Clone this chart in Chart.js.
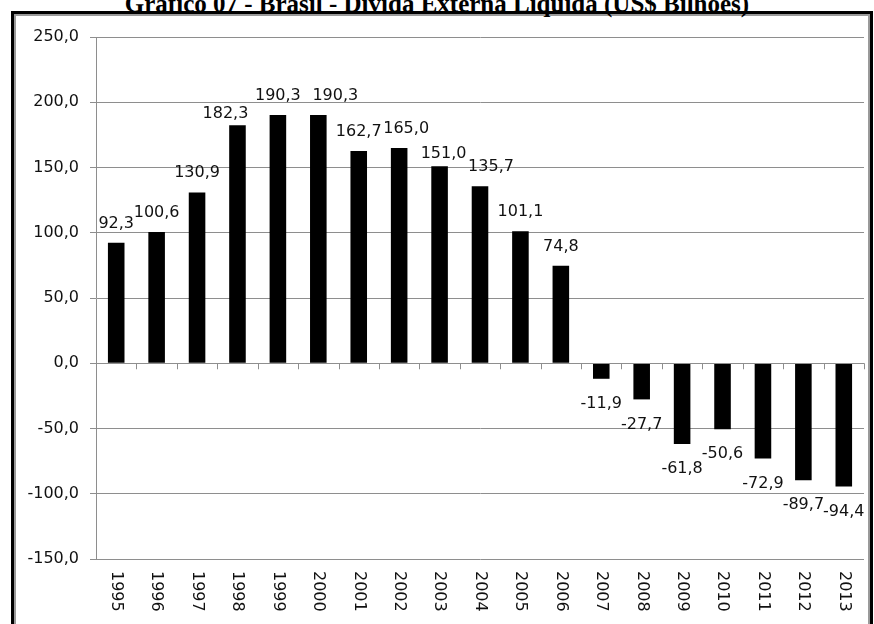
<!DOCTYPE html>
<html lang="pt-BR">
<head>
<meta charset="utf-8">
<title>Gráfico 07 - Brasil - Dívida Externa Líquida (US$ Bilhões)</title>
<script src="https://cdn.jsdelivr.net/npm/chart.js@4/dist/chart.umd.min.js"></script>
<style>
  html, body { margin: 0; padding: 0; background: #fff; }
  body { width: 874px; height: 624px; position: relative; overflow: hidden; }
  #frame {
    position: absolute; left: 11px; top: 11px; width: 862px; height: 640px;
    box-sizing: border-box; border: 3px solid #000;
    box-shadow: inset 0 0 0 2px #9a9a9a;
  }
  #title {
    position: absolute; left: 0; width: 874px; top: -9px; text-align: center;
    font-family: "Liberation Serif", "Times New Roman", serif; font-weight: bold;
    font-size: 25px; line-height: 25px; color: #000; white-space: nowrap;
  }
  #wrap { position: absolute; left: 0; top: 0; width: 874px; height: 624px; }
</style>
</head>
<body>
<div id="frame"></div>
<div id="title">Gráfico 07 - Brasil - Dívida Externa Líquida (US$ Bilhões)</div>
<div id="wrap"><canvas id="c" width="874" height="624"></canvas></div>
<script>
// Brazil net external debt, US$ billions, by year
const years = ['1995','1996','1997','1998','1999','2000','2001','2002','2003','2004',
               '2005','2006','2007','2008','2009','2010','2011','2012','2013'];
const netDebt = [92.3, 100.6, 130.9, 182.3, 190.3, 190.3, 162.7, 165.0, 151.0, 135.7,
                 101.1, 74.8, -11.9, -27.7, -61.8, -50.6, -72.9, -89.7, -94.4];
const yTicks = [-150, -100, -50, 0, 50, 100, 150, 200, 250];

const FONT = '"DejaVu Sans", "Noto Sans", sans-serif';
const GRID = '#8e8e8e';
const fmt = v => v.toFixed(1).replace('.', ',');

// a few value labels sit slightly off their bar, to keep neighbours apart
const labelShift = { '1998': [-12, 8], '2000': [17, 0], '2002': [7, 0], '2003': [4, 7], '2004': [11, 0] };

const valueLabels = {
  id: 'valueLabels',
  afterDatasetsDraw(chart) {
    const ctx = chart.ctx;
    const meta = chart.getDatasetMeta(0);
    ctx.save();
    ctx.font = '16px ' + FONT;
    ctx.fillStyle = '#111';
    ctx.textAlign = 'center';
    meta.data.forEach((bar, i) => {
      const v = netDebt[i];
      const s = labelShift[years[i]] || [0, 0];
      if (v >= 0) {
        ctx.textBaseline = 'alphabetic';
        ctx.fillText(fmt(v), bar.x + s[0], bar.y - 15 + s[1]);
      } else {
        ctx.textBaseline = 'top';
        ctx.fillText(fmt(v), bar.x + s[0], bar.y + 17 + s[1]);
      }
    });
    ctx.restore();
  }
};

// category axis drawn Excel-style: tick marks below the zero line, labels rotated downwards
const categoryAxis = {
  id: 'categoryAxis',
  afterDraw(chart) {
    const ctx = chart.ctx;
    const x = chart.scales.x, y = chart.scales.y;
    const y0 = y.getPixelForValue(0);
    const step = (x.right - x.left) / years.length;
    ctx.save();
    ctx.strokeStyle = GRID;
    ctx.lineWidth = 1;
    ctx.beginPath();
    ctx.moveTo(x.left, Math.round(y0) + 0.5);
    ctx.lineTo(x.right, Math.round(y0) + 0.5);
    for (let i = 1; i <= years.length; i++) {
      const px = Math.round(x.left + i * step) + 0.5;
      ctx.moveTo(px, y0);
      ctx.lineTo(px, y0 + 6);
    }
    ctx.stroke();
    ctx.font = '16px ' + FONT;
    ctx.fillStyle = '#111';
    ctx.textAlign = 'left';
    ctx.textBaseline = 'middle';
    years.forEach((yr, i) => {
      const cx = x.getPixelForValue(i);
      ctx.save();
      ctx.translate(cx, y.bottom + 12);
      ctx.rotate(Math.PI / 2);
      ctx.fillText(yr, 0, 0);
      ctx.restore();
    });
    ctx.restore();
  }
};

new Chart(document.getElementById('c'), {
  type: 'bar',
  data: {
    labels: years,
    datasets: [{
      data: netDebt,
      backgroundColor: '#000',
      borderWidth: 0,
      categoryPercentage: 1.0,
      barPercentage: 0.41
    }]
  },
  options: {
    responsive: false,
    animation: false,
    events: [],
    layout: { padding: { left: 0, top: 37, right: 10, bottom: 65 } },
    plugins: { legend: { display: false }, title: { display: false }, tooltip: { enabled: false } },
    scales: {
      x: { display: false },
      y: {
        min: -150, max: 250,
        afterFit(scale) { scale.width = 96; },
        afterBuildTicks(scale) { scale.ticks = yTicks.map(v => ({ value: v })); },
        ticks: {
          callback: v => fmt(v),
          font: { family: FONT, size: 16 },
          color: '#111',
          padding: 11
        },
        grid: { color: GRID, lineWidth: 1, tickLength: 6 },
        border: { display: true, color: GRID, width: 1 }
      }
    }
  },
  plugins: [valueLabels, categoryAxis]
});
</script>
</body>
</html>
